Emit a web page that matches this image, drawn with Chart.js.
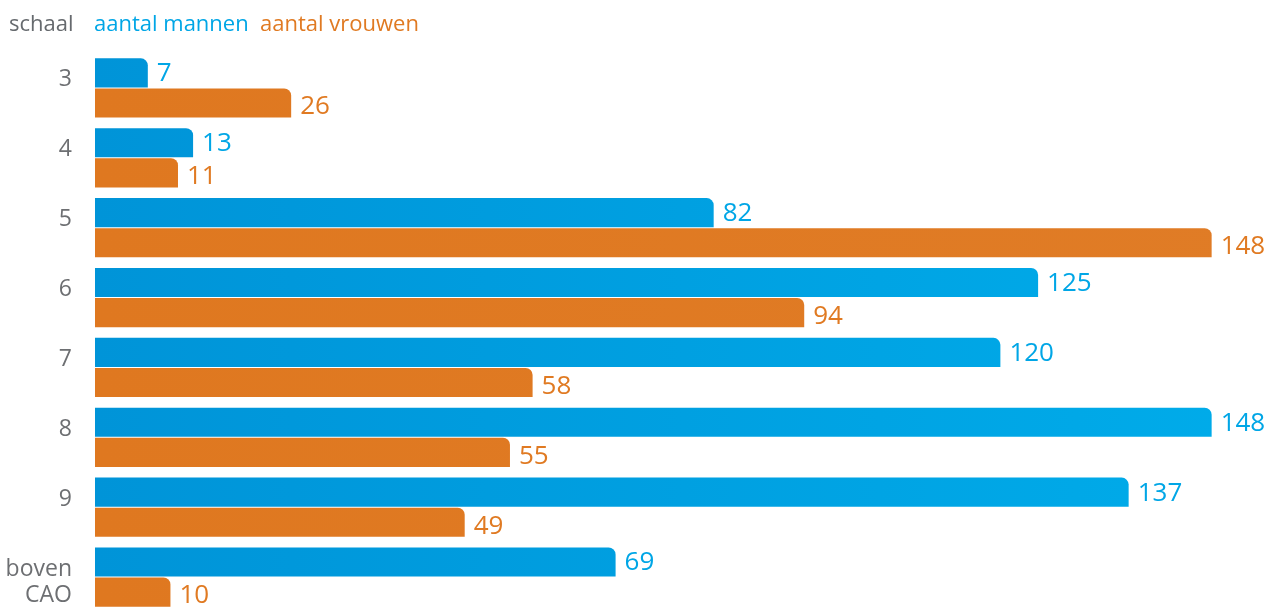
<!DOCTYPE html>
<html>
<head>
<meta charset="utf-8">
<script src="https://cdn.jsdelivr.net/npm/chart.js@4/dist/chart.umd.min.js"></script>
<style>
  html, body { margin: 0; padding: 0; background: #fff; overflow: hidden; }
  #wrap { position: relative; width: 1272px; height: 612px; }
  #legend span {
    position: absolute; top: 7px;
    font-family: "Open Sans", sans-serif; font-size: 22px; white-space: nowrap;
  }
</style>
</head>
<body>
<div id="wrap">
  <canvas id="chart" width="1272" height="612"></canvas>
  <div id="legend">
    <span style="left:9px;color:#666a6e">schaal</span>
    <span style="left:94px;color:#00a6e6">aantal mannen</span>
    <span style="left:260px;color:#e07a22">aantal vrouwen</span>
  </div>
</div>
<script>
const categories = ['3', '4', '5', '6', '7', '8', '9', ['boven', 'CAO']];
const men = [7, 13, 82, 125, 120, 148, 137, 69];
const women = [26, 11, 148, 94, 58, 55, 49, 10];

const blueText = '#00a6e6';
const orangeText = '#e07a22';

function gradient(ctx, from, to) {
    const area = ctx.chart.chartArea;
    if (!area) return from;
    const g = ctx.chart.ctx.createLinearGradient(area.left, 0, area.right, 0);
    g.addColorStop(0, from);
    g.addColorStop(1, to);
    return g;
}

// value labels at the end of each bar
const valueLabels = {
    id: 'valueLabels',
    afterDatasetsDraw(chart) {
        const c = chart.ctx;
        c.save();
        c.font = '26px "Open Sans", sans-serif';
        c.textBaseline = 'middle';
        c.textAlign = 'left';
        chart.data.datasets.forEach((ds, i) => {
            const meta = chart.getDatasetMeta(i);
            c.fillStyle = i === 0 ? blueText : orangeText;
            meta.data.forEach((bar, j) => {
                c.fillText(ds.data[j], bar.x + 9, bar.y + (i === 0 ? 1 : 4));
            });
        });
        c.restore();
    }
};

new Chart(document.getElementById('chart'), {
    type: 'bar',
    data: {
        labels: categories,
        datasets: [
            {
                label: 'aantal mannen',
                data: men,
                backgroundColor: ctx => gradient(ctx, '#0094d8', '#00acea'),
                borderRadius: { topRight: 7 },
                borderSkipped: false,
                categoryPercentage: 0.86,
                barPercentage: 0.97
            },
            {
                label: 'aantal vrouwen',
                data: women,
                backgroundColor: ctx => gradient(ctx, '#df7820', '#e07c26'),
                borderRadius: { topRight: 7 },
                borderSkipped: false,
                categoryPercentage: 0.86,
                barPercentage: 0.97
            }
        ]
    },
    options: {
        indexAxis: 'y',
        responsive: false,
        animation: false,
        layout: { padding: { top: 53, right: 0, left: 0, bottom: 0 } },
        plugins: {
            legend: { display: false },
            tooltip: { enabled: false }
        },
        scales: {
            x: {
                display: false,
                min: 0,
                max: 156
            },
            y: {
                grid: { display: false, drawTicks: false },
                border: { display: false },
                ticks: {
                    color: '#6d6f72',
                    padding: 23,
                    autoSkip: false,
                    labelOffset: -8,
                    font: { family: '"Open Sans", sans-serif', size: 23, lineHeight: 1.15 },
                    // two-line label sits lower than the single ones
                    callback(value) {
                        const l = this.getLabelForValue(value);
                        return Array.isArray(l) ? ['', ...l] : l;
                    }
                },
                afterFit(scale) {
                    scale.width = 95;
                    scale.paddingTop = 0;
                    scale.paddingBottom = 0;
                }
            }
        }
    },
    plugins: [valueLabels]
});
</script>
</body>
</html>
